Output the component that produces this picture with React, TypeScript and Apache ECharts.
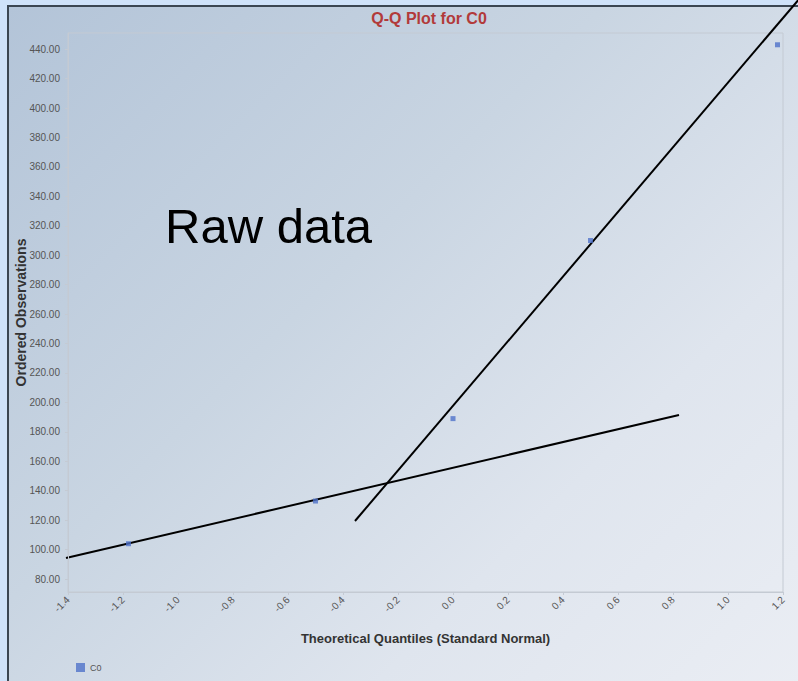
import React, { useEffect, useRef } from "react";
import * as echarts from "echarts";

const quantiles = [-1.18, -0.5, 0.0, 0.5, 1.18];
const observations = [104, 133, 189, 310, 443];
const seriesName = "C0";
const yTicks = [80, 100, 120, 140, 160, 180, 200, 220, 240, 260, 280, 300, 320, 340, 360, 380, 400, 420, 440];

export default function App() {
  const ref = useRef<HTMLDivElement>(null);
  useEffect(() => {
    document.body.style.margin = "0";
    const chart = echarts.init(ref.current!, null, { renderer: "svg" });
    const font = "'Liberation Sans', Arial, sans-serif";
    chart.setOption({
      animation: false,
      backgroundColor: "transparent",
      title: {
        text: "Q-Q Plot for C0",
        left: 424,
        textAlign: "center",
        top: 5,
        textStyle: { color: "#b23a3a", fontSize: 16, fontWeight: "bold", fontFamily: font },
      },
      legend: {
        left: 71,
        top: 658,
        icon: "rect",
        itemWidth: 9,
        itemHeight: 9,
        itemGap: 4,
        textStyle: { fontSize: 9, color: "#555", fontFamily: font },
        data: [seriesName],
      },
      grid: { left: 68, top: 33, right: 15, bottom: 89, show: true, borderColor: "#c4cad3", borderWidth: 1, backgroundColor: "transparent" },
      xAxis: {
        type: "value",
        min: -1.4,
        max: 1.2,
        interval: 0.2,
        name: "Theoretical Quantiles (Standard Normal)",
        nameLocation: "middle",
        nameGap: 40,
        nameMoveOverlap: false,
        nameTextStyle: { fontSize: 13, fontWeight: "bold", color: "#333", fontFamily: font },
        axisLine: { onZero: false, lineStyle: { color: "#c4cad3" } },
        axisTick: { show: true, length: 3, lineStyle: { color: "#c4cad3" } },
        splitLine: { show: false },
        axisLabel: {
          rotate: 45,
          fontSize: 10,
          color: "#555",
          fontFamily: font,
          margin: 6,
          formatter: (v: number) => v.toFixed(1),
        },
      },
      yAxis: {
        type: "value",
        min: 71.2,
        max: 451,
        name: "Ordered Observations",
        nameLocation: "middle",
        nameGap: 40,
        nameMoveOverlap: false,
        nameTextStyle: { fontSize: 14, fontWeight: "bold", color: "#333", fontFamily: font },
        axisLine: { show: true, onZero: false, lineStyle: { color: "#c4cad3" } },
        axisTick: { show: true, length: 3, lineStyle: { color: "#c4cad3" }, customValues: yTicks },
        splitLine: { show: false },
        axisLabel: {
          fontSize: 10,
          color: "#555",
          fontFamily: font,
          margin: 8,
          customValues: yTicks,
          formatter: (v: number) => v.toFixed(2),
        },
      },
      series: [
        {
          name: seriesName,
          type: "scatter",
          symbol: "rect",
          symbolSize: 5,
          itemStyle: { color: "#4f72c9" },
          data: quantiles.map((q, i) => [q, observations[i]]),
        },
      ],
      graphic: [
        {
          type: "text",
          left: 165,
          top: 201,
          style: { text: "Raw data", fontSize: 49, fontFamily: font, fill: "#000" },
        },
        {
          type: "line",
          shape: { x1: 66, y1: 558, x2: 679, y2: 415 },
          style: { stroke: "#000", lineWidth: 2 },
        },
        {
          type: "line",
          shape: { x1: 355, y1: 521, x2: 800, y2: -2 },
          style: { stroke: "#000", lineWidth: 2 },
        },
      ],
    });
    return () => chart.dispose();
  }, []);
  return (
    <div style={{ position: "relative", width: 798, height: 681, background: "#cfe2f9", overflow: "hidden" }}>
      <div
        style={{
          position: "absolute",
          left: 7,
          top: 5,
          width: 800,
          height: 690,
          borderLeft: "2px solid #3b4652",
          borderTop: "2px solid #3b4652",
          background: "linear-gradient(135deg, #b3c4d8 0%, #c9d5e2 40%, #dfe5ee 70%, #ebeef4 100%)",
        }}
      />
      <div ref={ref} style={{ position: "absolute", left: 0, top: 0, width: 798, height: 681 }} />
    </div>
  );
}
